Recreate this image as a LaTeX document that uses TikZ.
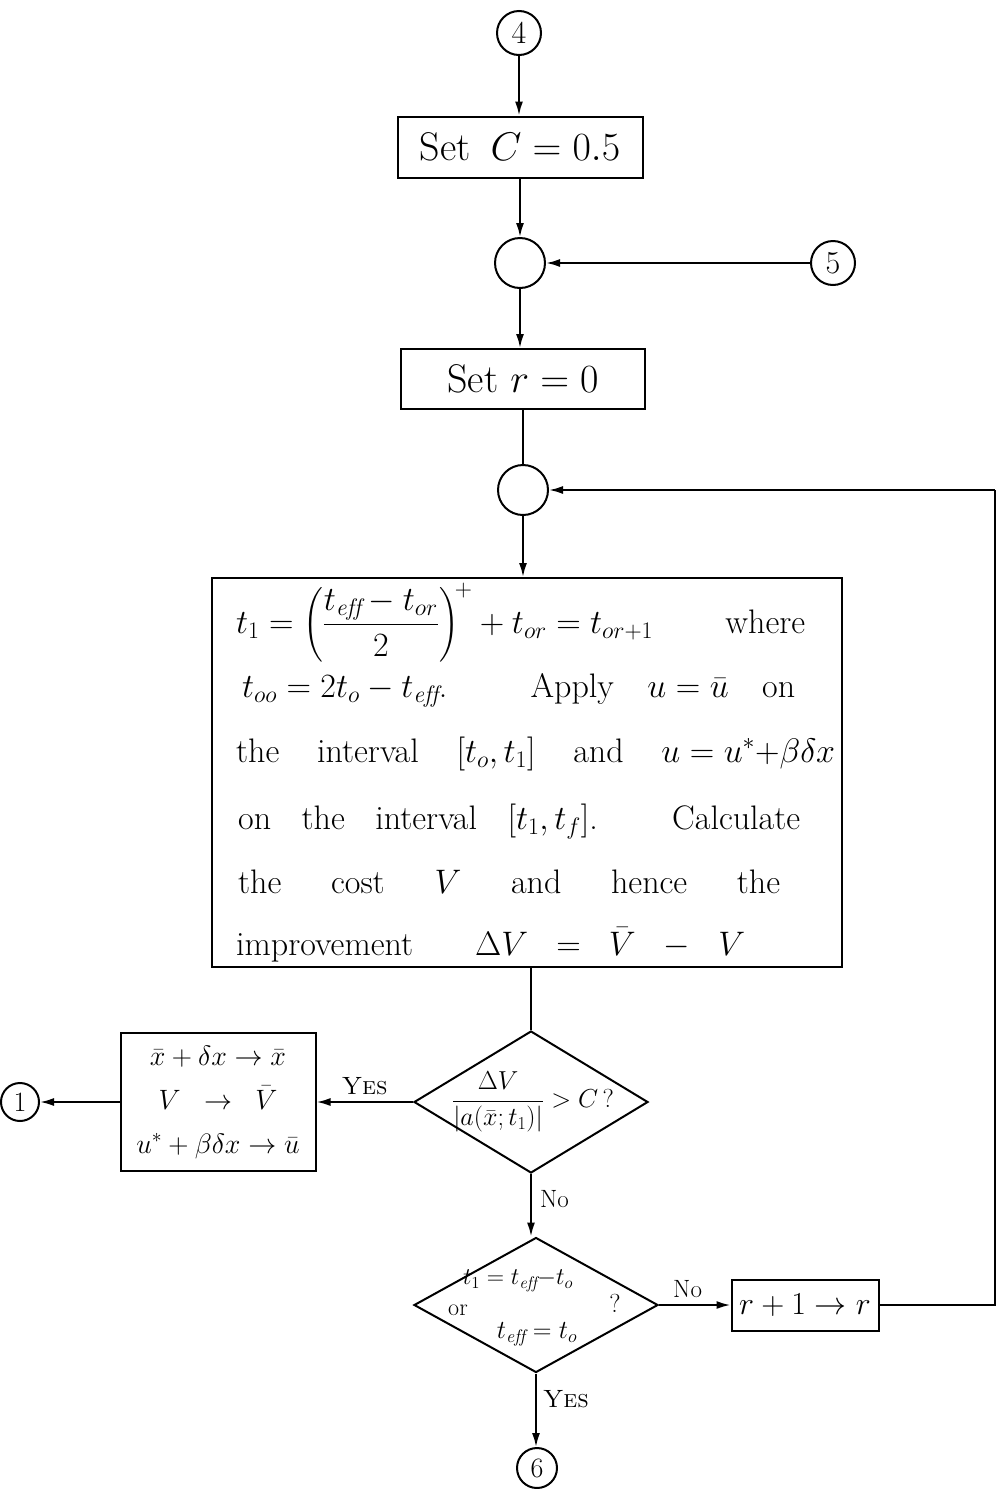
\RequirePackage{fix-cm}
\documentclass[tikz,border=0pt]{standalone}
\usepackage{amsmath}
\usepackage{fontspec}
\usetikzlibrary{shapes.geometric,arrows.meta}
\newcommand\fixmathgaps{\thickmuskip=5mu\relax\medmuskip=4mu\relax\thinmuskip=3mu\relax}
\tikzset{
  box/.style={draw, rectangle, inner sep=0pt, line width=2pt},
  conn/.style={draw, circle, inner sep=0pt, line width=2pt},
  junc/.style={draw, circle, inner sep=0pt, line width=2pt, minimum size=50pt},
  dia/.style={draw, diamond, inner sep=0pt, line width=2pt},
  arr/.style={-{Latex[length=14pt,width=8pt]}, line width=2pt},
  ln/.style={line width=2pt},
  lab/.style={inner sep=0pt, font=\fontsize{25}{27}\selectfont},
  bigtxt/.style={inner sep=0pt, anchor=base west, font=\fontsize{34}{40}\selectfont},
}
\begin{document}
\begin{tikzpicture}[x=1pt,y=-1pt]
\useasboundingbox (0,0) rectangle (1001,1489);

% connectors (circles)
\node[conn, minimum size=44pt, font=\fontsize{32}{32}\selectfont] (c4) at (519,33) {4};
\node[conn, minimum size=44pt, font=\fontsize{32}{32}\selectfont] (c5) at (833,263) {5};
\node[conn, minimum size=38pt, font=\fontsize{28}{28}\selectfont] (c1) at (20,1102) {1};
\node[conn, minimum size=40pt, font=\fontsize{28}{28}\selectfont] (c6) at (537,1468) {6};

% junctions
\node[junc] (j1) at (520,263) {};
\node[junc] (j2) at (523,490) {};

% boxes
\node[box, minimum width=245pt, minimum height=61pt, font=\fontsize{40}{40}\selectfont] (setC) at (520,147) {Set\enspace$C = 0.5$};
\node[box, minimum width=244pt, minimum height=60pt, font=\fontsize{40}{40}\selectfont] (setr) at (523,379) {Set $r = 0$};
\node[box, minimum width=630pt, minimum height=389pt] (calc) at (527,772.5) {};

\node[bigtxt] (l1) at (236,633) {\fixmathgaps\makebox[569pt][s]{$t_1 = \left(\dfrac{t_{\mathit{eff}} - t_{or}}{2}\right)^{\!+} + t_{or} = t_{or+1}$ \hfill where}};
\node[bigtxt] (l2) at (242,697) {\fixmathgaps\makebox[553pt][s]{$t_{oo} = 2t_o - t_{\mathit{eff}}$. Apply $u = \bar u$ on}};
\node[bigtxt] (l3) at (236,762) {\fixmathgaps\makebox[599pt][s]{the interval $[t_o, t_1]$ and $u = u^{*}{+}\beta\delta x$}};
\node[bigtxt] (l4) at (238,829) {\fixmathgaps\makebox[562pt][s]{on the interval $[t_1, t_f]$. Calculate}};
\node[bigtxt] (l5) at (238,893) {\fixmathgaps\makebox[542pt][s]{the cost $V$ and hence the}};
\node[bigtxt] (l6) at (236,955) {\fixmathgaps\makebox[509pt][s]{improvement \quad $\Delta V$ = $\bar V$ $-$ $V$}};

% decision 1
\node[dia, minimum width=234pt, minimum height=142pt] (d1) at (531,1102) {};
\node[inner sep=0pt, font=\fontsize{26}{28}\selectfont] (q1) at (533,1102) {$\dfrac{\Delta V}{|a(\bar x; t_1)|} > C\,?$};

% update box
\node[box, minimum width=195pt, minimum height=138pt, align=center, font=\fontsize{28}{44}\selectfont] (upd) at (218,1102)
  {$\bar x + \delta x \to \bar x$\\$V \;\;\to\;\; \bar V$\\$u^{*} + \beta\delta x \to \bar u$};

% decision 2
\node[dia, minimum width=244pt, minimum height=135pt] (d2) at (536,1305) {};
\node[inner sep=0pt, font=\fontsize{24}{26}\selectfont] (q2a) at (518,1281) {$t_1 = t_{\mathit{eff}} {-} t_o$};
\node[inner sep=0pt, font=\fontsize{24}{26}\selectfont] (q2b) at (458,1310) {or};
\node[inner sep=0pt, font=\fontsize{26}{28}\selectfont] (q2c) at (615,1303) {?};
\node[inner sep=0pt, font=\fontsize{26}{28}\selectfont] (q2d) at (537,1334) {$t_{\mathit{eff}} = t_o$};

% r+1 box
\node[box, minimum width=147pt, minimum height=51pt, font=\fontsize{32}{32}\selectfont] (rr) at (805,1305) {$r + 1 \to r$};

% loop corner coordinates
\coordinate (rc1) at (995,1305);
\coordinate (rc2) at (995,490);

% connectors
\draw[arr] (c4.south) -- (c4.south |- setC.north);
\draw[arr] (setC.south) -- (setC.south |- j1.north);
\draw[arr] (c5.west) -- (j1.east);
\draw[arr] (j1.south) -- (j1.south |- setr.north);
\draw[ln] (setr.south) -- (setr.south |- j2.north);
\draw[arr] (j2.south) -- (j2.south |- calc.north);
\draw[ln] (rr.east) -- (rc1) -- (rc2);
\draw[arr] (rc2) -- (j2.east);
\draw[ln] (calc.south -| d1.north) -- (d1.north);
\draw[arr] (d1.west) -- (upd.east) node[lab, pos=0.5, above=6pt] (y1) {\textsc{Yes}};
\draw[arr] (upd.west) -- (c1.east);
\draw[arr] (d1.south) -- (d1.south |- d2.north) node[lab, pos=0.4, right=8pt] (n1) {No};
\draw[arr] (d2.east) -- (rr.west) node[lab, pos=0.4, above=6pt] (n2) {No};
\draw[arr] (d2.south) -- (d2.south |- c6.north) node[lab, pos=0.35, right=6pt] (y2) {\textsc{Yes}};
\end{tikzpicture}
\end{document}
